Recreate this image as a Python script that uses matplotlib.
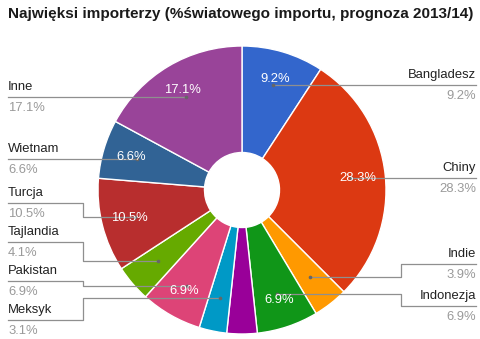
import numpy as np
import matplotlib
matplotlib.use('Agg')
import matplotlib.pyplot as plt

plt.rcParams['font.family'] = ['Liberation Sans', 'DejaVu Sans']

# data (percent of world imports, forecast 2013/14), clockwise from the top
countries = ['Bangladesz', 'Chiny', 'Indie', 'Indonezja', '', 'Meksyk',
             'Pakistan', 'Tajlandia', 'Turcja', 'Wietnam', 'Inne']
shares = [9.2, 28.3, 3.9, 6.9, 3.4, 3.1, 6.9, 4.1, 10.5, 6.6, 17.1]
title = 'Najwięksi importerzy (%światowego importu, prognoza 2013/14)'

colors = ['#3366cc', '#dc3912', '#ff9900', '#109618', '#990099', '#0099c6',
          '#dd4477', '#66aa00', '#b82e2e', '#316395', '#994499']

W, H = 481, 339
cx, cy = 242, 149          # centre (y measured from the bottom)
r_out, r_in = 144, 37.5

# label layout: line y in pixels from the top
label_line = {'Bangladesz': 85, 'Chiny': 178, 'Indie': 264, 'Indonezja': 306,
              'Inne': 97, 'Wietnam': 159, 'Turcja': 203, 'Tajlandia': 242,
              'Pakistan': 281, 'Meksyk': 320}

fig = plt.figure(figsize=(W / 100, H / 100), dpi=100)
ax = fig.add_axes([0, 0, 1, 1])

ax.pie(shares, colors=colors, startangle=90, counterclock=False,
       center=(cx, cy), radius=r_out,
       wedgeprops=dict(width=r_out - r_in, edgecolor='white', linewidth=1))

ax.set_xlim(0, W)
ax.set_ylim(0, H)
ax.set_aspect('auto')
ax.axis('off')

total = sum(shares)
cum = np.cumsum([0] + shares)
line_col = '#8f8f8f'
for i, (name, v) in enumerate(zip(countries, shares)):
    mid = (cum[i] + v / 2) / total * 2 * np.pi   # clockwise from top
    dx, dy = np.sin(mid), np.cos(mid)
    if v >= 5:
        R = 116
        ax.text(cx + R * dx, cy + R * dy, f'{v}%', color='white', fontsize=9.4,
                ha='center', va='center', zorder=6)
    if not name:
        continue
    ax_x, ax_y = cx + 110 * dx, cy + 110 * dy
    ly = H - label_line[name]
    if abs(ax_y - ly) < 4:
        ax_y = ly
    if dx > 0:
        xe, xl, ha = 401, 476, 'right'
    else:
        xe, xl, ha = 83, 8, 'left'
    if ax_y == ly:
        ax.plot([ax_x, xl], [ly, ly], color=line_col, lw=0.9, zorder=3)
    else:
        ax.plot([ax_x, xe, xe, xl], [ax_y, ax_y, ly, ly], color=line_col,
                lw=0.9, zorder=3)
    ax.plot(ax_x, ax_y, 'o', color='#666666', ms=1.6, zorder=4)
    ax.text(xl, ly + 10, name, color='#222222', fontsize=9.4, ha=ha,
            va='center')
    ax.text(xl, ly - 11, f'{v}%', color='#9a9a9a', fontsize=9.4, ha=ha,
            va='center')

ax.text(8, H - 14, title, fontsize=11, fontweight='bold', color='#1a1a1a',
        ha='left', va='center')

fig.savefig('out.png', dpi=100)
